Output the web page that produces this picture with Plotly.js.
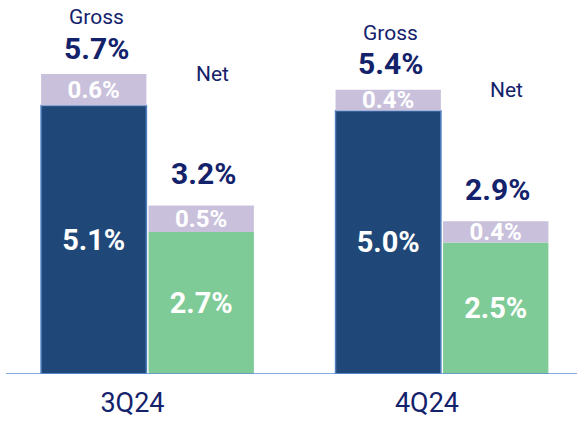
<!DOCTYPE html>
<html><head><meta charset="utf-8">
<script src="https://cdn.plot.ly/plotly-3.0.1.min.js"></script>
<style>html,body{margin:0;padding:0;background:#fff}#chart{width:577px;height:422px}</style>
</head><body><div id="chart"></div>
<script>
const quarters = ['3Q24', '4Q24'];
const grossBase = [5.1, 5.0];
const grossTop = [0.6, 0.4];
const grossTotal = [5.7, 5.4];
const netBase = [2.7, 2.5];
const netTop = [0.5, 0.4];
const netTotal = [3.2, 2.9];

const NAVY = '#13226b';
const fmt = v => v.toFixed(1) + '%';

function seg(name, vals, base, color, group, size, line) {
  return {
    type: 'bar', name: name, x: quarters, y: vals, base: base,
    offsetgroup: group,
    marker: { color: color, line: line || { width: 0 } },
    text: vals.map(fmt), textposition: 'inside', insidetextanchor: 'middle',
    constraintext: 'none',
    textfont: { color: '#ffffff', size: size, family: 'Roboto', weight: 'bold' },
    hoverinfo: 'skip'
  };
}

const traces = [
  seg('Gross base', grossBase, [0, 0], '#1f4878', 'gross', 29, { color: '#4f7fc0', width: 1.5 }),
  seg('Gross top', grossTop, grossBase, '#c9c1dc', 'gross', 24),
  seg('Net base', netBase, [0, 0], '#7fcb97', 'net', 29),
  seg('Net top', netTop, netBase, '#c9c1dc', 'net', 24)
];

const annotations = [];
quarters.forEach((q, i) => {
  annotations.push({ x: q, y: grossTotal[i], xshift: -51, yshift: 26, text: '<b>' + fmt(grossTotal[i]) + '</b>',
    showarrow: false, font: { color: NAVY, size: 30, family: 'Roboto' } });
  annotations.push({ x: q, y: grossTotal[i], xshift: -51, yshift: 57, text: 'Gross',
    showarrow: false, font: { color: NAVY, size: 21, family: 'Roboto' } });
  annotations.push({ x: q, y: netTotal[i], xshift: 56, yshift: 32, text: '<b>' + fmt(netTotal[i]) + '</b>',
    showarrow: false, font: { color: NAVY, size: 30, family: 'Roboto' } });
  annotations.push({ x: q, y: grossTotal[i], xshift: 65, yshift: 0, text: 'Net',
    showarrow: false, font: { color: NAVY, size: 21, family: 'Roboto' } });
});

const layout = {
  width: 577, height: 422,
  margin: { l: 0, r: 0, t: 0, b: 48 },
  paper_bgcolor: '#ffffff', plot_bgcolor: '#ffffff',
  barmode: 'group', bargap: 0.27, bargroupgap: 0.02,
  showlegend: false,
  xaxis: {
    type: 'category', range: [-0.5008, 1.4585],
    showgrid: false, zeroline: false, showline: false, ticks: '',
    tickfont: { color: NAVY, size: 27, family: 'Roboto' }, ticklabelstandoff: 10, ticklabelshift: -15
  },
  yaxis: { range: [0, 7.106], visible: false, fixedrange: true },
  shapes: [{ type: 'line', xref: 'paper', yref: 'y', x0: 0.0104, x1: 1, y0: 0, y1: 0,
    line: { color: '#5a8fd2', width: 1.5 }, layer: 'above' }],
  annotations: annotations,
  font: { family: 'Roboto' }
};

Plotly.newPlot('chart', traces, layout, { displayModeBar: false, staticPlot: true });
</script></body></html>
